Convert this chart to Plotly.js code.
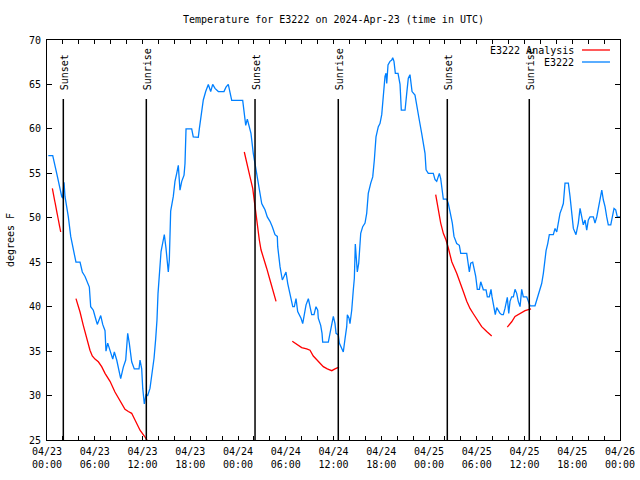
<!DOCTYPE html>
<html>
<head>
<meta charset="utf-8">
<script src="https://cdn.plot.ly/plotly-3.0.1.min.js"></script>
<style>html,body{margin:0;padding:0;background:#fff;}#chart{width:640px;height:480px;}</style>
</head>
<body>
<div id="chart"></div>
<script>
// Hours since 2024-04-23 00:00 UTC
const stationHours = [0.16,0.72,1.22,1.55,1.85,1.97,2.14,2.26,2.68,2.98,3.30,3.64,4.15,4.44,4.78,4.99,5.32,5.49,5.82,6.16,6.32,6.75,7.00,7.29,7.41,7.63,7.92,8.26,8.46,8.76,9.26,9.59,9.89,10.14,10.34,10.64,10.97,11.56,11.69,11.90,12.03,12.23,12.44,12.65,12.94,13.23,13.45,13.66,13.82,13.95,14.11,14.24,14.33,14.61,14.74,14.95,15.12,15.24,15.37,15.46,15.54,15.87,16.08,16.30,16.50,16.71,16.93,17.22,17.34,17.47,18.18,18.38,19.01,19.14,19.35,19.64,19.94,20.27,20.57,20.82,21.11,21.53,22.24,22.49,22.78,23.00,23.21,24.59,24.76,24.97,25.17,25.42,25.63,25.92,26.14,26.26,26.55,26.77,26.98,27.18,27.39,27.68,28.02,28.31,28.65,28.94,28.99,29.28,29.40,29.57,29.78,30.03,30.25,30.45,30.66,30.88,31.08,31.29,31.50,31.70,31.92,32.13,32.33,32.55,32.84,33.05,33.26,33.55,33.80,34.02,34.09,34.39,34.56,34.64,35.35,35.56,35.78,35.98,36.19,36.32,36.61,36.73,36.94,37.23,37.45,37.66,37.74,37.95,38.07,38.29,38.49,38.62,38.74,38.87,38.99,39.17,39.33,39.42,39.67,39.96,40.17,40.37,40.68,40.93,41.13,41.34,41.63,41.84,42.06,42.26,42.47,42.60,42.69,42.85,43.10,43.32,43.44,43.60,43.77,44.11,44.36,44.52,44.99,45.20,45.40,45.61,45.74,45.87,46.24,46.46,46.78,47.08,47.29,47.50,47.63,47.91,48.54,48.76,48.97,49.17,49.30,49.47,49.60,49.80,50.23,50.43,50.64,50.93,51.14,51.48,51.81,51.99,52.74,52.94,53.07,53.24,53.49,53.66,53.87,54.07,54.33,54.50,54.66,54.83,55.17,55.33,55.58,55.67,55.79,55.92,56.08,56.33,56.51,56.71,56.92,57.14,57.34,57.55,57.68,57.84,58.02,58.18,58.39,58.60,58.81,59.02,59.22,59.44,59.65,59.85,60.28,60.48,60.69,61.32,61.54,61.74,61.95,62.16,62.37,62.58,62.71,62.92,63.12,63.62,63.84,64.05,64.25,64.46,64.68,64.88,65.09,65.51,65.72,65.93,66.14,66.47,66.76,66.98,67.19,67.39,67.61,67.82,68.02,68.23,68.65,68.86,69.08,69.41,69.71,69.91,70.12,70.33,70.53,70.84,71.04,71.25,71.46,71.66,72.00];
const stationTemps = [57.0,57.0,55.0,53.5,52.4,52.2,54.0,52.4,50.1,47.9,46.4,45.0,45.0,43.9,43.4,43.0,42.2,40.0,39.6,38.5,38.0,39.0,38.0,37.3,35.0,35.9,35.1,34.1,34.9,34.0,31.9,33.2,34.0,37.0,35.9,33.8,33.0,33.0,34.0,33.0,30.8,29.05,30.1,30.0,30.8,32.5,34.2,36.4,38.5,41.5,43.75,45.25,46.2,47.5,48.1,46.6,44.7,43.9,45.25,47.7,50.75,52.4,54.1,55.0,55.9,53.1,54.1,54.8,56.1,60.0,60.0,59.1,59.05,60.0,61.4,63.25,64.2,65.0,64.2,65.0,64.55,64.2,64.2,64.7,65.0,64.2,63.2,63.2,61.75,60.4,61.1,60.25,59.5,57.25,56.1,55.6,53.9,52.6,51.6,51.25,50.9,50.1,49.6,49.0,48.1,47.9,46.75,44.5,43.75,43.0,43.4,43.9,42.6,41.7,40.6,40.0,40.0,40.9,39.45,39.1,38.7,38.1,39.1,40.2,40.9,40.0,39.1,39.1,40.0,39.6,38.7,37.9,37.0,36.0,36.0,37.0,37.9,38.9,38.1,37.0,36.8,35.9,35.5,34.9,36.4,37.75,39.1,38.7,38.1,39.6,41.9,43.2,47.05,44.9,43.9,44.9,47.1,48.25,49.0,49.4,50.5,52.75,53.9,54.6,56.5,59.1,60.25,60.6,61.6,63.8,65.9,66.25,65.1,67.2,67.6,67.75,68.0,67.6,66.25,66.25,65.0,62.1,62.1,64.0,65.7,66.1,65.1,64.2,63.8,62.5,61.0,59.5,58.4,57.25,55.4,55.0,55.0,54.3,54.1,54.6,55.0,54.4,53.5,52.1,52.1,51.6,50.7,49.4,47.9,47.1,46.9,46.0,46.0,44.9,43.9,44.9,45.0,44.3,43.4,41.95,41.95,42.8,42.25,41.9,41.9,41.1,41.1,41.5,41.95,41.1,40.2,39.1,39.9,39.6,39.25,39.1,39.1,39.8,40.6,41.05,39.25,40.6,41.1,41.1,41.95,41.5,40.6,40.0,41.95,41.1,41.1,40.6,40.1,40.1,40.75,41.1,41.7,42.6,43.75,45.25,46.3,47.1,48.1,48.1,48.8,48.4,49.4,50.5,51.05,51.6,53.9,53.9,52.4,50.7,48.8,48.1,49.4,51.05,50.1,49.2,49.75,48.6,49.75,50.1,50.1,49.4,50.1,51.6,53.1,52.0,51.25,50.1,49.2,49.2,50.1,51.05,50.9,50.1,50.1];

// Analysis series (null = gap)
const analysisHours = [0.67,1.72,null,3.64,4.15,4.56,4.99,5.40,5.69,6.03,6.45,6.87,7.29,7.92,8.54,9.17,9.80,10.22,10.64,11.06,11.69,12.23,12.60,12.70,null,24.79,25.09,25.51,25.85,26.05,26.23,26.43,26.68,26.89,27.18,27.61,28.02,28.44,28.78,null,30.82,31.16,31.58,32.00,32.63,33.05,33.46,34.09,34.72,35.22,35.78,36.19,36.69,null,48.84,49.17,49.47,49.80,50.14,50.43,50.86,51.48,51.90,52.31,52.74,53.15,53.57,53.99,54.62,55.25,55.88,null,57.84,58.39,58.81,59.44,60.07,60.82];
const analysisTemps = [53.3,48.4,null,40.9,39.4,37.9,36.4,35.1,34.45,34.1,33.8,33.25,32.5,31.6,30.4,29.5,28.45,28.2,28.0,27.25,26.1,25.45,25.0,24.8,null,57.4,56.1,54.6,53.3,51.8,50.7,49.0,47.5,46.4,45.6,44.3,43.0,41.7,40.6,null,36.1,35.9,35.6,35.4,35.25,35.1,34.45,33.8,33.25,33.0,32.8,33.0,33.2,null,52.6,50.9,49.4,48.25,47.5,46.6,45.05,43.75,42.8,41.7,40.6,39.8,39.2,38.6,37.75,37.2,36.7,null,37.7,38.3,38.9,39.25,39.55,39.75];

const sunHours = [2.05, 12.48, 26.14, 36.6, 50.3, 60.6];
const sunLabels = ["Sunset", "Sunrise", "Sunset", "Sunrise", "Sunset", "Sunrise"];

const seriesNames = ["E3222 Analysis", "E3222"];
const seriesColors = ["#ff0000", "#0080ff"];
const titleText = "Temperature for E3222 on 2024-Apr-23 (time in UTC)";
const yTitle = "degrees F";

const t0 = Date.UTC(2024, 3, 23);
function toDate(h) {
  if (h === null) return null;
  return new Date(t0 + Math.round(h * 3600000)).toISOString().replace('T', ' ').slice(0, 19);
}

const font = {family: "DejaVu Sans Mono, monospace", size: 10, color: "#000"};
const xRange = [toDate(0), toDate(72)];

const traces = [
  {x: analysisHours.map(toDate), y: analysisTemps, type: "scatter", mode: "lines",
   name: seriesNames[0], line: {color: seriesColors[0], width: 1.3}, connectgaps: false},
  {x: stationHours.map(toDate), y: stationTemps, type: "scatter", mode: "lines",
   name: seriesNames[1], line: {color: seriesColors[1], width: 1.3}},
  // carrier for the mirrored top/right tick axes (no visible marks)
  {x: [], y: [], xaxis: "x2", yaxis: "y2", type: "scatter", mode: "lines", showlegend: false, hoverinfo: "skip"}
];

const shapes = sunHours.map(h => ({
  type: "line", xref: "x", yref: "paper", x0: toDate(h), x1: toDate(h), y0: 0, y1: 0.8525,
  line: {color: "#000", width: 1.5}
}));

const annotations = sunHours.map((h, i) => ({
  x: toDate(h), xref: "x", y: 0.87, yref: "paper", text: sunLabels[i],
  textangle: -90, showarrow: false, xanchor: "center", yanchor: "bottom",
  xshift: 1, font: font
}));

// legend drawn gnuplot-style: text right-aligned, sample line to its right
const legendRowsY = [0.975, 0.945];
seriesNames.forEach((name, i) => {
  annotations.push({x: 0.9232, xref: "paper", y: legendRowsY[i], yref: "paper", text: name,
    showarrow: false, xanchor: "right", yanchor: "middle", font: font});
  shapes.push({type: "line", xref: "paper", yref: "paper", x0: 0.9337, x1: 0.9825,
    y0: legendRowsY[i], y1: legendRowsY[i], line: {color: seriesColors[i], width: 1.3}});
});

const layout = {
  width: 640, height: 480,
  margin: {l: 47, r: 20, t: 40, b: 40},
  paper_bgcolor: "#fff", plot_bgcolor: "#fff",
  font: font,
  title: {text: titleText, font: font, x: 0.5, xref: "paper", y: 0.96, yanchor: "middle"},
  showlegend: false,
  xaxis: {
    type: "date", range: xRange,
    tickformat: "%m/%d<br>%H:%M", dtick: 6 * 3600000, tick0: toDate(0),
    ticks: "inside", ticklen: 4, tickcolor: "#000", tickwidth: 1,
    showline: true, linecolor: "#000", linewidth: 1, mirror: true,
    showgrid: false, zeroline: false, tickfont: font, ticklabelstandoff: 2,
    minor: {dtick: 2 * 3600000, tick0: toDate(0), ticks: "inside", ticklen: 4, tickcolor: "#000", showgrid: false}
  },
  xaxis2: {
    type: "date", range: xRange, overlaying: "x", side: "top", anchor: "y",
    dtick: 2 * 3600000, tick0: toDate(0), ticks: "inside", ticklen: 4, tickcolor: "#000",
    showticklabels: false, showgrid: false, zeroline: false, showline: false
  },
  yaxis: {
    range: [25, 70], dtick: 5, tick0: 25,
    ticks: "inside", ticklen: 5, tickcolor: "#000", tickwidth: 1,
    showline: true, linecolor: "#000", linewidth: 1, mirror: true,
    showgrid: false, zeroline: false, tickfont: font, ticklabelstandoff: 3,
    title: {text: yTitle, font: font, standoff: 12}
  },
  yaxis2: {
    range: [25, 70], dtick: 5, tick0: 25, overlaying: "y", side: "right", anchor: "x",
    ticks: "inside", ticklen: 5, tickcolor: "#000",
    showticklabels: false, showgrid: false, zeroline: false, showline: false
  },
  shapes: shapes,
  annotations: annotations
};

Plotly.newPlot("chart", traces, layout, {staticPlot: true, displayModeBar: false});
</script>
</body>
</html>
